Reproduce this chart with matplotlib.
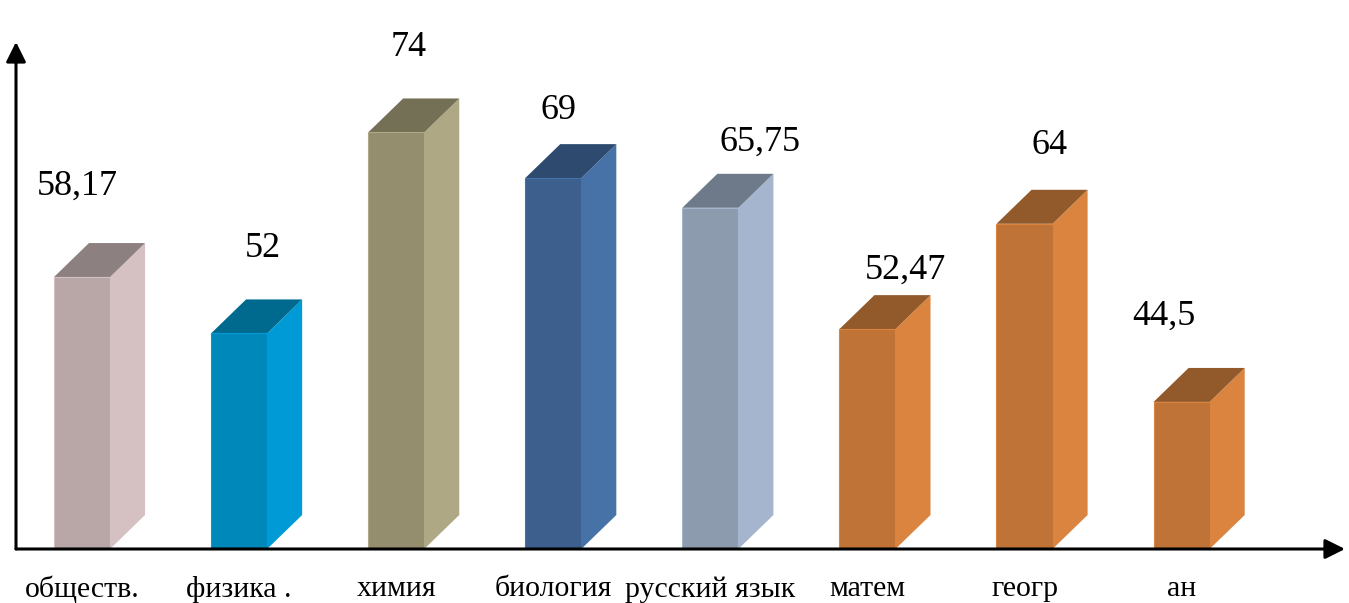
import numpy as np
import matplotlib.pyplot as plt
from matplotlib.patches import Polygon

plt.rcParams['font.family'] = ['Liberation Serif', 'DejaVu Serif']

# subjects and average scores
subjects = ['обществ.', 'физика .', 'химия', 'биология', 'русский язык', 'матем', 'геогр', 'ан']
scores = [58.17, 52, 74, 69, 65.75, 52.47, 64, 44.5]
score_labels = ['58,17', '52', '74', '69', '65,75', '52,47', '64', '44,5']

# front / side / top colours of each box
front_cols = ['#B8A7A6', '#0088BA', '#948E6E', '#3C5F8D', '#8C9BAD', '#BF7336', '#BF7336', '#BF7336']
side_cols = ['#D5C1C1', '#009BD6', '#AEA885', '#4672A8', '#A4B5CD', '#DB843F', '#DB843F', '#DB843F']
top_cols = ['#8D8080', '#006A8E', '#747056', '#2E4A6E', '#6E7A8A', '#925A2B', '#925A2B', '#925A2B']

# label nudges (points) relative to the top of each box
lab_dx = [-3, 17, 9, 4, 36, 27, 18, -13]
lab_dy = [41, 37, 37, 24, 23, 18, 32, 37]

y0, y1 = 28.4, 83.9
w = 0.357        # front face width
ddx, ddy = 0.223, 3.72   # depth of the box

fig = plt.figure(figsize=(13.49, 6.03), dpi=100)
ax = fig.add_axes([16 / 1349, 54 / 603, 1329 / 1349, 507 / 603])
ax.set_xlim(-0.42, 8.04)
ax.set_ylim(y0, y1)
ax.axis('off')

x = np.arange(len(subjects))
for i, v in enumerate(scores):
    l, r = x[i] - w / 2, x[i] + w / 2
    front = Polygon([(l, y0), (r, y0), (r, v), (l, v)], closed=True,
                    facecolor=front_cols[i], edgecolor=side_cols[i], lw=0.8)
    side = Polygon([(r, y0), (r + ddx, y0 + ddy), (r + ddx, v + ddy), (r, v)], closed=True,
                   facecolor=side_cols[i], edgecolor='none')
    top = Polygon([(l, v), (r, v), (r + ddx, v + ddy), (l + ddx, v + ddy)], closed=True,
                  facecolor=top_cols[i], edgecolor='none')
    ax.add_patch(side)
    ax.add_patch(top)
    ax.add_patch(front)

    ax.annotate(score_labels[i], xy=(x[i], v + ddy), xytext=(lab_dx[i], lab_dy[i]),
                textcoords='offset points', ha='center', va='center', fontsize=26)
    ax.annotate(subjects[i], xy=(x[i], y0), xytext=(0, -29),
                textcoords='offset points', ha='center', va='center', fontsize=21.5)

# axes with arrow heads
arrow = dict(arrowstyle='-|>', color='black', lw=2.2, mutation_scale=30, shrinkA=0, shrinkB=0)
ax.annotate('', xy=(0, 1), xytext=(0, 0), xycoords='axes fraction', arrowprops=arrow)
ax.annotate('', xy=(1, 0), xytext=(0, 0), xycoords='axes fraction', arrowprops=arrow)

fig.savefig('out.png', dpi=100)
